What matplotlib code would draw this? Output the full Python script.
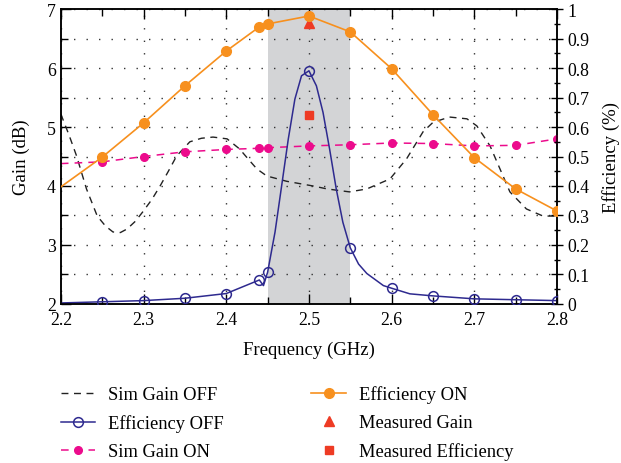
import numpy as np
import matplotlib
matplotlib.use("Agg")
import matplotlib.pyplot as plt
from matplotlib.ticker import MultipleLocator, FuncFormatter

plt.rcParams['font.family'] = ['Liberation Serif', 'DejaVu Serif']
plt.rcParams['font.size'] = 12.8

# marker frequencies (GHz)
f_mk = [2.25, 2.3, 2.35, 2.4, 2.44, 2.45, 2.5, 2.55, 2.6, 2.65, 2.7, 2.75, 2.8]

# Efficiency ON (right axis)
eff_on_f = [2.2] + f_mk
eff_on = [0.397, 0.498, 0.614, 0.74, 0.858, 0.94, 0.95, 0.977, 0.923, 0.798,
          0.642, 0.496, 0.39, 0.315]

# Efficiency OFF markers and traced curve (right axis)
eff_off_mk = [0.007, 0.011, 0.019, 0.035, 0.081, 0.107, 0.789, 0.19, 0.053,
              0.027, 0.017, 0.014, 0.011]
eff_off_f = [2.2, 2.25, 2.3, 2.35, 2.4, 2.44, 2.445, 2.45, 2.459, 2.467, 2.475,
             2.483, 2.491, 2.5, 2.509, 2.517, 2.525, 2.533, 2.541, 2.55, 2.56,
             2.57, 2.59, 2.6, 2.622, 2.65, 2.7, 2.75, 2.8]
eff_off = [0.003, 0.007, 0.011, 0.019, 0.035, 0.081, 0.062, 0.107, 0.244, 0.401,
           0.559, 0.695, 0.774, 0.791, 0.74, 0.65, 0.525, 0.39, 0.277, 0.19,
           0.135, 0.103, 0.062, 0.053, 0.034, 0.027, 0.017, 0.014, 0.011]

# Sim Gain ON (left axis)
gain_on_f = [2.2] + f_mk
gain_on = [4.38, 4.41, 4.50, 4.58, 4.62, 4.64, 4.65, 4.68, 4.70, 4.73, 4.72,
           4.68, 4.69, 4.80]

# Sim Gain OFF (left axis), traced curve
gain_off_f = [2.2, 2.21, 2.219, 2.231, 2.244, 2.254, 2.263, 2.272, 2.28, 2.29,
              2.299, 2.31, 2.32, 2.33, 2.34, 2.356, 2.37, 2.384, 2.401, 2.416,
              2.427, 2.437, 2.449, 2.473, 2.505, 2.522, 2.549, 2.57, 2.598,
              2.618, 2.638, 2.65, 2.67, 2.691, 2.703, 2.719, 2.731, 2.743,
              2.763, 2.783, 2.8]
gain_off = [5.22, 4.86, 4.51, 3.95, 3.49, 3.32, 3.22, 3.21, 3.27, 3.40, 3.56,
            3.77, 4.0, 4.25, 4.51, 4.75, 4.81, 4.83, 4.80, 4.63, 4.45, 4.29,
            4.17, 4.08, 4.0, 3.95, 3.90, 3.95, 4.12, 4.46, 4.92, 5.08, 5.17,
            5.14, 5.02, 4.68, 4.29, 3.90, 3.61, 3.49, 3.49]

# measured points at 2.5 GHz
meas_f = [2.5]
meas_gain = [6.76]
meas_eff = [0.642]

band = [2.45, 2.55]

c_orange = '#f7901e'
c_blue = '#2e2a8f'
c_pink = '#ec0b8c'
c_red = '#ee3b24'

fig = plt.figure(figsize=(6.21, 4.64), dpi=100)
ax = fig.add_axes([0.098, 0.343, 0.799, 0.635])
ax2 = ax.twinx()

ax.axvspan(band[0], band[1], color='#d3d4d6', lw=0, zorder=0)
ax.grid(True, which='both', axis='y', color='#333333', lw=1,
        linestyle=(0, (1, 8)), zorder=0.5)
ax.grid(True, which='major', axis='x', color='#333333', lw=1,
        linestyle=(0, (1, 8)), zorder=0.5)

h_goff, = ax.plot(gain_off_f, gain_off, color='#222222', lw=1,
                  dashes=(5, 4), zorder=2)
h_gon, = ax.plot(gain_on_f, gain_on, color=c_pink, lw=1.1, dashes=(5, 4),
                 zorder=2)
ax.plot(f_mk, gain_on[1:], 'o', color=c_pink, ms=5.5, zorder=3)
h_gon_leg, = ax.plot([], [], color=c_pink, lw=1.1, dashes=(5, 4), marker='o',
                     ms=5.5)
h_mg, = ax.plot(meas_f, meas_gain, '^', color=c_red, ms=6.5, ls='none',
                zorder=4)

ax2.plot(eff_off_f, eff_off, color=c_blue, lw=1.1, zorder=2)
ax2.plot(f_mk, eff_off_mk, 'o', mfc='none', mec=c_blue, mew=1.1, ms=7,
         zorder=3)
h_eoff, = ax2.plot([], [], color=c_blue, lw=1.1, marker='o', mfc='none',
                   mec=c_blue, mew=1.1, ms=7)
h_eon, = ax2.plot(eff_on_f, eff_on, color=c_orange, lw=1.2, marker='o',
                  ms=7, markevery=list(range(1, len(eff_on))), zorder=3)
h_eon_leg, = ax2.plot([], [], color=c_orange, lw=1.2, marker='o', ms=7)
h_me, = ax2.plot(meas_f, meas_eff, 's', color=c_red, ms=6, ls='none',
                 zorder=4)

ax.set_xlim(2.2, 2.8)
ax.set_ylim(2, 7)
ax2.set_ylim(0, 1)

ax.xaxis.set_major_locator(MultipleLocator(0.1))
ax.xaxis.set_minor_locator(MultipleLocator(0.05))
ax.yaxis.set_major_locator(MultipleLocator(1))
ax.yaxis.set_minor_locator(MultipleLocator(0.5))
ax2.yaxis.set_major_locator(MultipleLocator(0.1))
ax2.yaxis.set_minor_locator(MultipleLocator(0.05))
ax2.yaxis.set_major_formatter(FuncFormatter(lambda v, p: f"{v:g}"))

ax.tick_params(axis='x', which='both', direction='in', top=True, length=7,
               width=1, pad=5)
ax.tick_params(axis='x', which='minor', length=5)
ax.tick_params(axis='y', which='both', direction='in', length=7, width=1)
ax.tick_params(axis='y', which='minor', length=5)
ax2.tick_params(axis='y', which='both', direction='inout', length=8, width=1)
ax2.tick_params(axis='y', which='minor', length=5)

for a in (ax, ax2):
    for s in a.spines.values():
        s.set_linewidth(1.1)

ax.set_xlabel('Frequency (GHz)', fontsize=13.5, labelpad=9)
ax.set_ylabel('Gain (dB)', fontsize=13.5, labelpad=12)
ax2.set_ylabel('Efficiency (%)', fontsize=13.5, labelpad=9)

fig.legend([h_goff, h_eoff, h_gon_leg, h_eon_leg, h_mg, h_me],
           ['Sim Gain OFF', 'Efficiency OFF', 'Sim Gain ON', 'Efficiency ON',
            'Measured Gain', 'Measured Efficiency'],
           ncol=2, loc='upper left', bbox_to_anchor=(0.098, 0.167),
           borderpad=0, borderaxespad=0,
           frameon=False, handlelength=1.85, handletextpad=0.7,
           columnspacing=4.75, labelspacing=0.6, fontsize=13.3)

fig.savefig('out.png', dpi=100)
